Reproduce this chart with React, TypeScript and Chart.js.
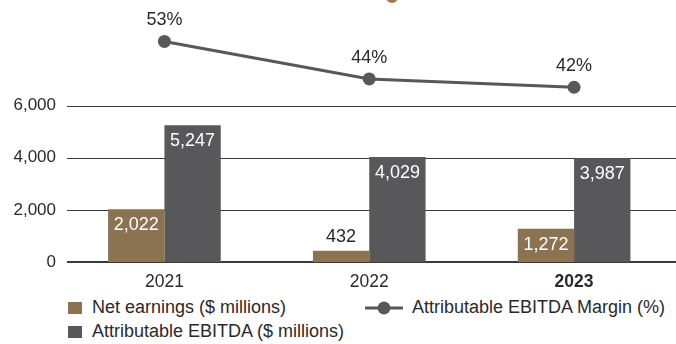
import React, { useEffect, useRef } from "react";
import { Chart, registerables } from "chart.js";

Chart.register(...registerables);

const categories = ["2021", "2022", "2023"];
const netEarnings = [2022, 432, 1272];
const attributableEbitda = [5247, 4029, 3987];
const ebitdaMargin = [53, 44, 42];
const yTickValues = [0, 2000, 4000, 6000];

const BROWN = "#8B7351";
const GRAY = "#58585A";
const TEXT = "#2a2a2a";
const FONT = "'Liberation Sans', Arial, Helvetica, sans-serif";

const gridLines = {
  id: "gridLines",
  beforeDatasetsDraw(chart: any) {
    const ctx = chart.ctx;
    const y = chart.scales.y;
    const area = chart.chartArea;
    ctx.save();
    ctx.strokeStyle = "#3a3a3a";
    yTickValues.forEach((v) => {
      const py = Math.round(y.getPixelForValue(v));
      ctx.lineWidth = v === 0 ? 2 : 1;
      const off = v === 0 ? 0 : 0.5;
      ctx.beginPath();
      ctx.moveTo(area.left + 5, py + off);
      ctx.lineTo(area.right, py + off);
      ctx.stroke();
    });
    ctx.restore();
  },
};

const valueLabels = {
  id: "valueLabels",
  afterDatasetsDraw(chart: any) {
    const ctx = chart.ctx;
    ctx.save();
    ctx.font = `18px ${FONT}`;
    ctx.textAlign = "center";
    ctx.textBaseline = "middle";
    chart.data.datasets.forEach((ds: any, di: number) => {
      const meta = chart.getDatasetMeta(di);
      meta.data.forEach((el: any, i: number) => {
        const v = ds.data[i] as number;
        if (ds.type === "line") {
          ctx.fillStyle = TEXT;
          ctx.fillText(`${v}%`, el.x, el.y - 21);
        } else {
          const h = el.base - el.y;
          const txt = v.toLocaleString("en-US");
          if (h > 30) {
            ctx.fillStyle = "#ffffff";
            ctx.fillText(txt, el.x, el.y + 16);
          } else {
            ctx.fillStyle = TEXT;
            ctx.fillText(txt, el.x, el.y - 14);
          }
        }
      });
    });
    ctx.restore();
  },
};

export default function App() {
  const canvasRef = useRef<HTMLCanvasElement | null>(null);

  useEffect(() => {
    document.body.style.margin = "0";
    const canvas = canvasRef.current;
    if (!canvas) return;
    const chart = new Chart(canvas, {
      type: "bar",
      data: {
        labels: categories,
        datasets: [
          {
            type: "line",
            label: "Attributable EBITDA Margin (%)",
            data: ebitdaMargin,
            yAxisID: "y2",
            borderColor: GRAY,
            backgroundColor: GRAY,
            borderWidth: 3,
            pointRadius: 6.5,
            pointBackgroundColor: GRAY,
            pointBorderWidth: 0,
            tension: 0,
            clip: false,
            order: 0,
          } as any,
          {
            type: "bar",
            label: "Net earnings ($ millions)",
            data: netEarnings,
            backgroundColor: BROWN,
            yAxisID: "y",
            categoryPercentage: 0.55,
            barPercentage: 1,
            order: 1,
          },
          {
            type: "bar",
            label: "Attributable EBITDA ($ millions)",
            data: attributableEbitda,
            backgroundColor: GRAY,
            yAxisID: "y",
            categoryPercentage: 0.55,
            barPercentage: 1,
            order: 1,
          },
        ],
      },
      options: {
        responsive: false,
        animation: false,
        devicePixelRatio: 1,
        layout: { padding: 0 },
        plugins: {
          legend: { display: false },
          tooltip: { enabled: false },
        },
        scales: {
          x: {
            grid: { display: false, drawTicks: false },
            border: { display: false },
            ticks: {
              padding: 10,
              color: TEXT,
              font: (c: any) => ({
                family: FONT,
                size: 17.5,
                weight: c.index === 2 ? "bold" : "normal",
              }),
            },
            afterFit(scale: any) {
              scale.height = 30;
              scale.paddingLeft = 0;
              scale.paddingRight = 0;
            },
          },
          y: {
            min: 0,
            max: 10000,
            position: "left",
            border: { display: false },
            grid: { display: false, drawTicks: false },
            ticks: {
              padding: 6,
              color: TEXT,
              font: { family: FONT, size: 17 },
              callback: (v: any) => Number(v).toLocaleString("en-US"),
            },
            afterBuildTicks(scale: any) {
              scale.ticks = yTickValues.map((v) => ({ value: v }));
            },
            afterFit(scale: any) {
              scale.width = 62;
              scale.paddingTop = 0;
              scale.paddingBottom = 0;
            },
          },
          y2: {
            display: false,
            min: 0,
            max: 62.6,
          },
        },
      },
      plugins: [gridLines, valueLabels],
    });
    return () => chart.destroy();
  }, []);

  const legendText: React.CSSProperties = {
    position: "absolute",
    fontFamily: FONT,
    fontSize: 18,
    color: TEXT,
    lineHeight: "20px",
    whiteSpace: "nowrap",
  };

  return (
    <div
      style={{
        position: "fixed",
        left: 0,
        top: 0,
        width: 676,
        height: 344,
        background: "#ffffff",
        overflow: "hidden",
      }}
    >
      <div
        style={{
          position: "absolute",
          left: 386,
          top: -9,
          width: 12,
          height: 12,
          borderRadius: 6,
          background: "#9C7F50",
        }}
      />
      <canvas
        ref={canvasRef}
        width={683}
        height={297}
        style={{ position: "absolute", left: 0, top: -5, width: 683, height: 297 }}
      />
      <div style={{ position: "absolute", left: 68, top: 302, width: 14, height: 12, background: BROWN }} />
      <div style={{ ...legendText, left: 92, top: 297 }}>Net earnings ($ millions)</div>
      <div style={{ position: "absolute", left: 68, top: 326, width: 14, height: 12, background: GRAY }} />
      <div style={{ ...legendText, left: 92, top: 321 }}>Attributable EBITDA ($ millions)</div>
      <svg
        width={40}
        height={16}
        style={{ position: "absolute", left: 365, top: 300 }}
      >
        <line x1={0} y1={8} x2={38} y2={8} stroke={GRAY} strokeWidth={3} />
        <circle cx={19} cy={8} r={6.5} fill={GRAY} />
      </svg>
      <div style={{ ...legendText, left: 412, top: 297 }}>Attributable EBITDA Margin (%)</div>
    </div>
  );
}
